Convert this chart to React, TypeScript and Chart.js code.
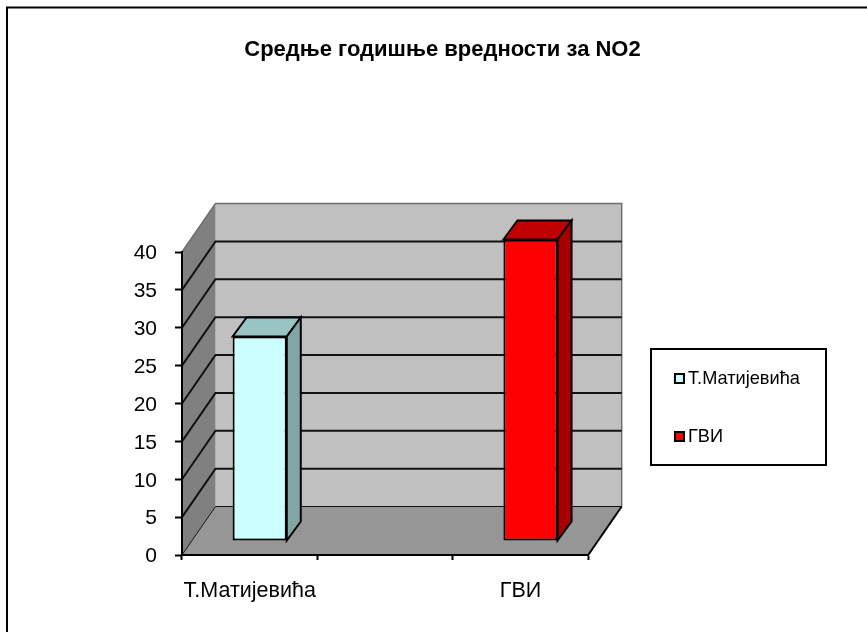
import React, { useEffect, useRef } from "react";
import { Chart, registerables } from "chart.js";

Chart.register(...registerables);

const title = "Средње годишње вредности за NO2";
const categories = ["Т.Матијевића", "", "ГВИ"];
const values: (number | null)[] = [27, null, 39.8];
const frontColors = ["#ccffff", "#ccffff", "#ff0000"];
const topColors = ["#99c4c4", "#99c4c4", "#c00000"];
const sideColors = ["#80a6a6", "#80a6a6", "#a60000"];
const yTicksMax = 40;
const yTicksStep = 5;

const FONT = "'Liberation Sans', Arial, sans-serif";
const WALL = { dx: 33.5, dy: 48.5 };
const BAR_SHIFT = { dx: 10, dy: 14 };
const BAR_DEPTH = { dx: 14, dy: 19 };
const LEGEND = { x: 651, y: 349, w: 175, h: 116 };
const Y_LABEL_NUDGE = 1.5;

function swatch(color: string) {
  const c = document.createElement("canvas");
  c.width = 17;
  c.height = 11;
  const g = c.getContext("2d")!;
  g.fillStyle = color;
  g.strokeStyle = "#000";
  g.lineWidth = 2;
  g.fillRect(7, 1, 9, 9);
  g.strokeRect(7, 1, 9, 9);
  return c;
}

function poly(ctx: CanvasRenderingContext2D, pts: number[][], fill: string) {
  ctx.beginPath();
  pts.forEach((p, i) => (i ? ctx.lineTo(p[0], p[1]) : ctx.moveTo(p[0], p[1])));
  ctx.closePath();
  ctx.fillStyle = fill;
  ctx.fill();
}

const scenePlugin = {
  id: "scene3d",
  afterLayout(chart: any) {
    const lg = chart.legend;
    const pad = lg.options.labels.padding;
    lg.left = 673.9 - pad;
    lg.right = LEGEND.x + LEGEND.w;
    lg.top = 369.4 - pad;
    lg.bottom = 632;
    const tb = chart.titleBlock;
    tb.left = 18;
    tb.right = 867;
    const ys = chart.scales.y;
    if (!ys.__nudged) {
      const original = ys.drawLabels;
      ys.drawLabels = function (area: any) {
        const ctx = this.ctx;
        ctx.save();
        ctx.translate(0, Y_LABEL_NUDGE);
        original.call(this, area);
        ctx.restore();
      };
      ys.__nudged = true;
    }
  },
  beforeDraw(chart: any) {
    const { ctx, scales } = chart;
    const xs = scales.x;
    const ys = scales.y;
    const l = xs.left;
    const r = xs.right;
    const b = ys.getPixelForValue(0);
    const t = ys.getPixelForValue(yTicksMax);
    const { dx, dy } = WALL;
    ctx.save();
    // outer frame
    ctx.strokeStyle = "#000";
    ctx.lineWidth = 2;
    ctx.beginPath();
    ctx.moveTo(7, 640);
    ctx.lineTo(7, 7.5);
    ctx.lineTo(870, 7.5);
    ctx.stroke();
    // walls
    poly(ctx, [[l + dx, t - dy], [r + dx, t - dy], [r + dx, b - dy], [l + dx, b - dy]], "#c0c0c0");
    poly(ctx, [[l, t], [l + dx, t - dy], [l + dx, b - dy], [l, b]], "#808080");
    poly(ctx, [[l, b], [l + dx, b - dy], [r + dx, b - dy], [r, b]], "#969696");
    ctx.strokeStyle = "#6e6e6e";
    ctx.lineWidth = 1.5;
    ctx.beginPath();
    ctx.moveTo(l, t);
    ctx.lineTo(l + dx, t - dy);
    ctx.lineTo(r + dx, t - dy);
    ctx.lineTo(r + dx, b - dy);
    ctx.stroke();
    // grid lines on side and back wall
    ctx.strokeStyle = "#111";
    ys.ticks.forEach((tk: any) => {
      if (tk.value === yTicksMax) return;
      const y = ys.getPixelForValue(tk.value);
      ctx.lineWidth = tk.value === 0 ? 1 : 2;
      ctx.beginPath();
      ctx.moveTo(l, y);
      ctx.lineTo(l + dx, y - dy);
      ctx.lineTo(r + dx, y - dy);
      ctx.stroke();
    });
    // floor right edge
    ctx.strokeStyle = "#000";
    ctx.lineWidth = 2;
    ctx.beginPath();
    ctx.moveTo(r, b);
    ctx.lineTo(r + dx, b - dy);
    ctx.stroke();
    // legend box
    ctx.fillStyle = "#fff";
    ctx.fillRect(LEGEND.x, LEGEND.y, LEGEND.w, LEGEND.h);
    ctx.strokeRect(LEGEND.x, LEGEND.y, LEGEND.w, LEGEND.h);
    ctx.restore();
  },
  beforeDatasetsDraw(chart: any) {
    const ctx = chart.ctx;
    ctx.save();
    ctx.translate(BAR_SHIFT.dx, -BAR_SHIFT.dy);
    const { dx, dy } = BAR_DEPTH;
    chart.getDatasetMeta(0).data.forEach((bar: any, i: number) => {
      if (values[i] == null || bar.skip) return;
      const { x, y, base, width } = bar.getProps(["x", "y", "base", "width"]);
      const a = x - width / 2;
      const c = x + width / 2;
      const top = [[a, y], [a + dx, y - dy], [c + dx, y - dy], [c, y]];
      const side = [[c, y], [c + dx, y - dy], [c + dx, base - dy], [c, base]];
      ctx.strokeStyle = "#000";
      ctx.lineWidth = 2;
      poly(ctx, top, topColors[i]);
      ctx.stroke();
      poly(ctx, side, sideColors[i]);
      ctx.stroke();
    });
  },
  afterDatasetsDraw(chart: any) {
    chart.ctx.restore();
  },
};

export default function App() {
  const ref = useRef<HTMLCanvasElement>(null);
  useEffect(() => {
    const chart = new Chart(ref.current!, {
      type: "bar",
      data: {
        labels: categories,
        datasets: [
          {
            data: values,
            backgroundColor: frontColors,
            borderColor: "#000",
            borderWidth: 2,
            borderSkipped: false,
            barPercentage: 0.4,
            categoryPercentage: 1,
            clip: false,
          } as any,
        ],
      },
      options: {
        responsive: false,
        animation: false,
        devicePixelRatio: 1,
        layout: { padding: { left: 0, top: 0, bottom: 0, right: 103 } },
        plugins: {
          tooltip: { enabled: false },
          title: {
            display: true,
            text: title,
            color: "#000",
            font: { family: FONT, size: 22, weight: "bold", lineHeight: 1.2 },
            padding: { top: 37, bottom: 188.6 },
          },
          legend: {
            display: true,
            position: "right",
            align: "start",
            labels: {
              usePointStyle: true,
              boxWidth: 5,
              boxHeight: 5,
              padding: 39.8,
              color: "#000",
              font: { family: FONT, size: 18.2 },
              generateLabels: () =>
                categories
                  .map((text, i) => ({ text, i }))
                  .filter((d) => d.text)
                  .map((d) => ({
                    text: d.text,
                    pointStyle: swatch(frontColors[d.i]) as any,
                    fillStyle: frontColors[d.i],
                    strokeStyle: "#000",
                    lineWidth: 2,
                    hidden: false,
                    datasetIndex: 0,
                  })),
            },
          },
        },
        scales: {
          x: {
            offset: true,
            afterFit: (s: any) => {
              s.height = 77;
            },
            grid: {
              offset: true,
              display: true,
              drawOnChartArea: false,
              drawTicks: true,
              tickLength: 5,
              tickWidth: 2,
              tickColor: "#000",
            },
            border: { display: true, color: "#000", width: 2 },
            ticks: {
              autoSkip: false,
              maxRotation: 0,
              minRotation: 0,
              padding: 18,
              color: "#000",
              font: { family: FONT, size: 21.5 },
            },
          },
          y: {
            min: 0,
            max: yTicksMax,
            afterFit: (s: any) => {
              s.width = 182;
            },
            grid: {
              display: true,
              drawOnChartArea: false,
              drawTicks: true,
              tickLength: 7,
              tickWidth: 2,
              tickColor: "#000",
            },
            border: { display: true, color: "#000", width: 2 },
            ticks: {
              stepSize: yTicksStep,
              padding: 18,
              color: "#000",
              font: { family: FONT, size: 21 },
            },
          },
        },
      },
      plugins: [scenePlugin],
    } as any);
    return () => chart.destroy();
  }, []);
  return (
    <canvas
      ref={ref}
      width={867}
      height={632}
      style={{ position: "fixed", left: 0, top: 0, width: 867, height: 632, background: "#fff" }}
    />
  );
}
